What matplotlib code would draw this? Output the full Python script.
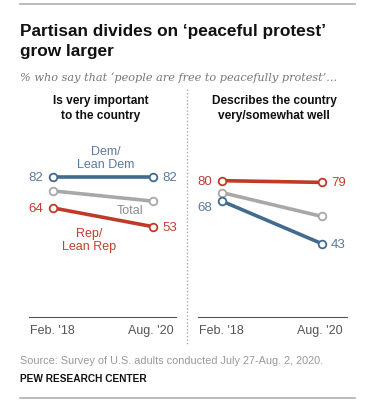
import matplotlib
matplotlib.use("Agg")
import matplotlib.pyplot as plt
from matplotlib.lines import Line2D

# Data
periods = ["Feb. '18", "Aug. '20"]
important_dem = [82, 82]
important_total = [74, 68]
important_rep = [64, 53]
describes_rep = [80, 79]
describes_total = [73, 59]
describes_dem = [68, 43]

W, H = 377, 410
DEM = "#436a8f"
REP = "#bf3a27"
TOT = "#a8a8a8"
DEM_TXT = "#5a7a9c"
REP_TXT = "#c0402e"
GRAY_TXT = "#8c8c8c"

fig = plt.figure(figsize=(W / 100, H / 100), dpi=100)
fig.patch.set_facecolor("white")

def fx(x):
    return x / W

def fy(y):
    return 1 - y / H

SANS = ["Liberation Sans", "DejaVu Sans"]

# Top and bottom rules
fig.add_artist(Line2D([fx(20), fx(355)], [fy(5), fy(5)], color="#b0b0b0", lw=1.2))
fig.add_artist(Line2D([fx(20), fx(355)], [fy(399), fy(399)], color="#b0b0b0", lw=1.2))

fig.text(fx(20), fy(36), "Partisan divides on \u2018peaceful protest\u2019", fontsize=12.4,
         fontweight="bold", family=SANS, color="#111111", va="baseline")
fig.text(fx(20), fy(56), "grow larger", fontsize=12.4, fontweight="bold", family=SANS,
         color="#111111", va="baseline")
fig.text(fx(20), fy(81), "% who say that \u2018people are free to peacefully protest\u2019...",
         fontsize=8.1, style="italic", family=["DejaVu Serif"], color="#777777", va="baseline")

# Panel titles
fig.text(fx(101), fy(108.5), "Is very important\nto the country", fontsize=8.6, fontweight="bold",
         family=SANS, color="#111111", ha="center", va="center", linespacing=1.25)
fig.text(fx(274), fy(108.5), "Describes the country\nvery/somewhat well", fontsize=8.6,
         fontweight="bold", family=SANS, color="#111111", ha="center", va="center", linespacing=1.25)

# Divider
fig.add_artist(Line2D([fx(187), fx(187)], [fy(90), fy(345)], color="#aaaaaa", lw=1,
                      linestyle=(0, (1, 1.5))))

def series(ax, vals, color, z):
    ax.plot([0, 1], vals, color=color, lw=2.6, marker="o", ms=5.5, mfc="white",
            mec=color, mew=1.3, zorder=z, solid_capstyle="round")

axL = fig.add_axes([fx(29), fy(318), (176 - 29) / W, 170.4 / H])
axR = fig.add_axes([fx(198), fy(318), (347 - 198) / W, 170.4 / H])
axL.set_xlim(-0.24, 1.23)
axR.set_xlim(-0.24, 1.25)
for ax in (axL, axR):
    ax.set_ylim(0, 100)
    for s in ["top", "right", "left"]:
        ax.spines[s].set_visible(False)
    ax.spines["bottom"].set_color("#555555")
    ax.spines["bottom"].set_linewidth(0.8)
    ax.set_xticks([])
    ax.set_yticks([])
    ax.patch.set_alpha(0)
    ax.text(-0.23, -0.075, periods[0], transform=ax.get_xaxis_transform(), ha="left",
            va="center", fontsize=9, family=SANS, color="#555555")
    ax.text(1.21, -0.075, periods[1], transform=ax.get_xaxis_transform(), ha="right",
            va="center", fontsize=9, family=SANS, color="#555555")

series(axL, important_total, TOT, 2)
series(axL, important_rep, REP, 3)
series(axL, important_dem, DEM, 4)
series(axR, describes_total, TOT, 2)
series(axR, describes_dem, DEM, 3)
series(axR, describes_rep, REP, 4)

NUM = dict(fontsize=9.5, family=SANS, va="center")
# Left panel values
axL.text(-0.1, important_dem[0], str(important_dem[0]), ha="right", color=DEM_TXT, **NUM)
axL.text(1.09, important_dem[1], str(important_dem[1]), ha="left", color=DEM_TXT, **NUM)
axL.text(-0.1, important_rep[0], str(important_rep[0]), ha="right", color=REP_TXT, **NUM)
axL.text(1.09, important_rep[1], str(important_rep[1]), ha="left", color=REP_TXT, **NUM)
axL.text(0.53, 93.5, "Dem/\nLean Dem", ha="center", color=DEM_TXT, fontsize=9, family=SANS,
         va="center", linespacing=1.15)
axL.text(0.77, 63, "Total", ha="center", color=GRAY_TXT, fontsize=9, family=SANS, va="center")
axL.text(0.36, 45.5, "Rep/\nLean Rep", ha="center", color=REP_TXT, fontsize=9, family=SANS,
         va="center", linespacing=1.15)

# Right panel values
axR.text(-0.1, describes_rep[0], str(describes_rep[0]), ha="right", color=REP_TXT, **NUM)
axR.text(1.09, describes_rep[1], str(describes_rep[1]), ha="left", color=REP_TXT, **NUM)
axR.text(-0.1, describes_dem[0] - 3.5, str(describes_dem[0]), ha="right", color=DEM_TXT, **NUM)
axR.text(1.09, describes_dem[1], str(describes_dem[1]), ha="left", color=DEM_TXT, **NUM)

fig.text(fx(20), fy(361), "Source: Survey of U.S. adults conducted July 27-Aug. 2, 2020.",
         fontsize=7.8, family=SANS, color="#999999", va="center")
fig.text(fx(20), fy(379), "PEW RESEARCH CENTER", fontsize=7.3, fontweight="bold",
         family=SANS, color="#111111", va="center")

fig.savefig("out.png", dpi=100, facecolor="white")
